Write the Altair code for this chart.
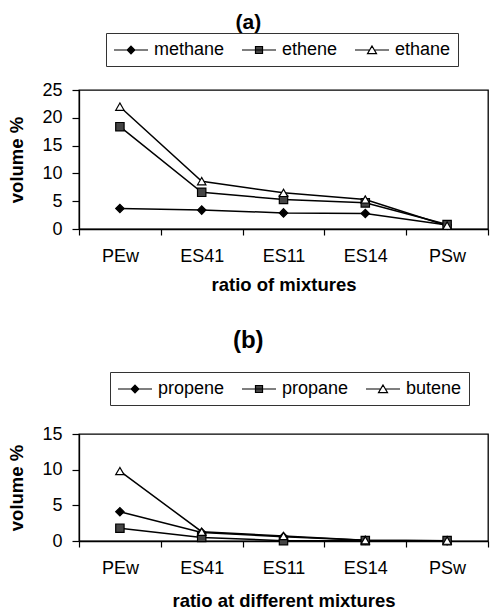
import altair as alt
import pandas as pd

categories = ["PEw", "ES41", "ES11", "ES14", "PSw"]

names_a = ["methane", "ethene", "ethane"]
methane = [3.7, 3.4, 2.9, 2.8, 0.7]
ethene = [18.4, 6.6, 5.3, 4.7, 0.8]
ethane = [22.0, 8.6, 6.5, 5.3, 0.6]

names_b = ["propene", "propane", "butene"]
propene = [4.1, 1.2, 0.6, 0.1, 0.05]
propane = [1.8, 0.5, 0.05, 0.05, 0.05]
butene = [9.8, 1.3, 0.7, 0.1, 0.05]

FONT = "Liberation Sans"

# legend symbols: line with marker (custom paths)
diamond_path = "M-1,0H2.78M0.89,-0.42L1.31,0L0.89,0.42L0.47,0Z"
square_path = "M-1,0H2.78M0.5,-0.39H1.28V0.39H0.5Z"
triangle_path = "M-1,0H0.63M1.15,0H2.78M0.89,-0.45L1.39,0.4L0.39,0.4Z"
fills = ["black", "#444444", "white"]
strokes = ["black", "black", "black"]


def make_df(names, series):
    rows = []
    for n, vals in zip(names, series):
        for i, (c, v) in enumerate(zip(categories, vals)):
            rows.append({"series": n, "cat": c, "idx": i, "value": v})
    return pd.DataFrame(rows)


def panel(title, tsize, toff, names, series, ymax, xtitle, height, xtp, legx, legy):
    df = make_df(names, series)
    x = alt.X("cat:N", sort=categories,
              scale=alt.Scale(type="band", paddingInner=0, paddingOuter=0),
              axis=alt.Axis(title=xtitle, labelAngle=0, tickBand="extent",
                            tickSize=6, labelPadding=12, titlePadding=xtp))
    y = alt.Y("value:Q", scale=alt.Scale(domain=[0, ymax], nice=False),
              axis=alt.Axis(title="volume %", values=list(range(0, ymax + 1, 5)),
                            tickSize=7, labelPadding=10, titlePadding=15, grid=False))
    base = alt.Chart(df)
    lines = base.mark_line(color="black", strokeWidth=1.5).encode(
        x=x, y=y, detail="series:N", order="idx:Q")
    pts = base.mark_point(filled=True, stroke="black", strokeWidth=1.2, opacity=1, size=70).encode(
        x=x, y=y,
        shape=alt.Shape("series:N", scale=alt.Scale(domain=names, range=["diamond", "square", "triangle-up"]), legend=None),
        fill=alt.Fill("series:N", scale=alt.Scale(domain=names, range=fills), legend=None))
    lg = dict(title=None, orient="none", direction="horizontal", legendX=legx, legendY=legy)
    leg = base.transform_filter("false").mark_point(filled=True, strokeWidth=1.2, opacity=1).encode(
        x=x, y=y,
        shape=alt.Shape("series:N", scale=alt.Scale(domain=names, range=[diamond_path, square_path, triangle_path]),
                        legend=alt.Legend(**lg)),
        fill=alt.Fill("series:N", scale=alt.Scale(domain=names, range=fills), legend=alt.Legend(**lg)),
        stroke=alt.Stroke("series:N", scale=alt.Scale(domain=names, range=strokes), legend=alt.Legend(**lg)))
    return alt.layer(lines, pts, leg).resolve_scale(
        shape="independent", fill="independent", stroke="independent").properties(
        width=409, height=height,
        title=alt.TitleParams(title, fontSize=tsize, fontWeight="bold", font=FONT, anchor="middle",
                              frame="bounds", offset=toff))


a = panel("(a)", 21, 0, names_a, [methane, ethene, ethane], 25, "ratio of mixtures", 139, 10, 27, -57)
b = panel("(b)", 24, 19, names_b, [propene, propane, butene], 15, "ratio at different mixtures", 107, 14, 31, -62)

chart = alt.vconcat(a, b, spacing=32).properties(
    padding={"left": 7, "top": 10, "right": 0, "bottom": 0}
).configure_view(stroke="black", strokeWidth=1.3).configure_axis(
    labelFont=FONT, titleFont=FONT, labelFontSize=18, titleFontSize=18.5,
    titleFontWeight="bold", labelColor="black", titleColor="black",
    domainColor="black", tickColor="black", domainWidth=1.3, tickWidth=1.2
).configure_legend(
    labelFont=FONT, labelFontSize=18, labelColor="black", strokeColor="#333333",
    fillColor="white", padding=7, columnPadding=14, symbolSize=324, labelOffset=21,
    symbolStrokeWidth=1.2, symbolStrokeColor="black"
)

chart.save("out.html", embed_options={"renderer": "svg", "actions": False})
